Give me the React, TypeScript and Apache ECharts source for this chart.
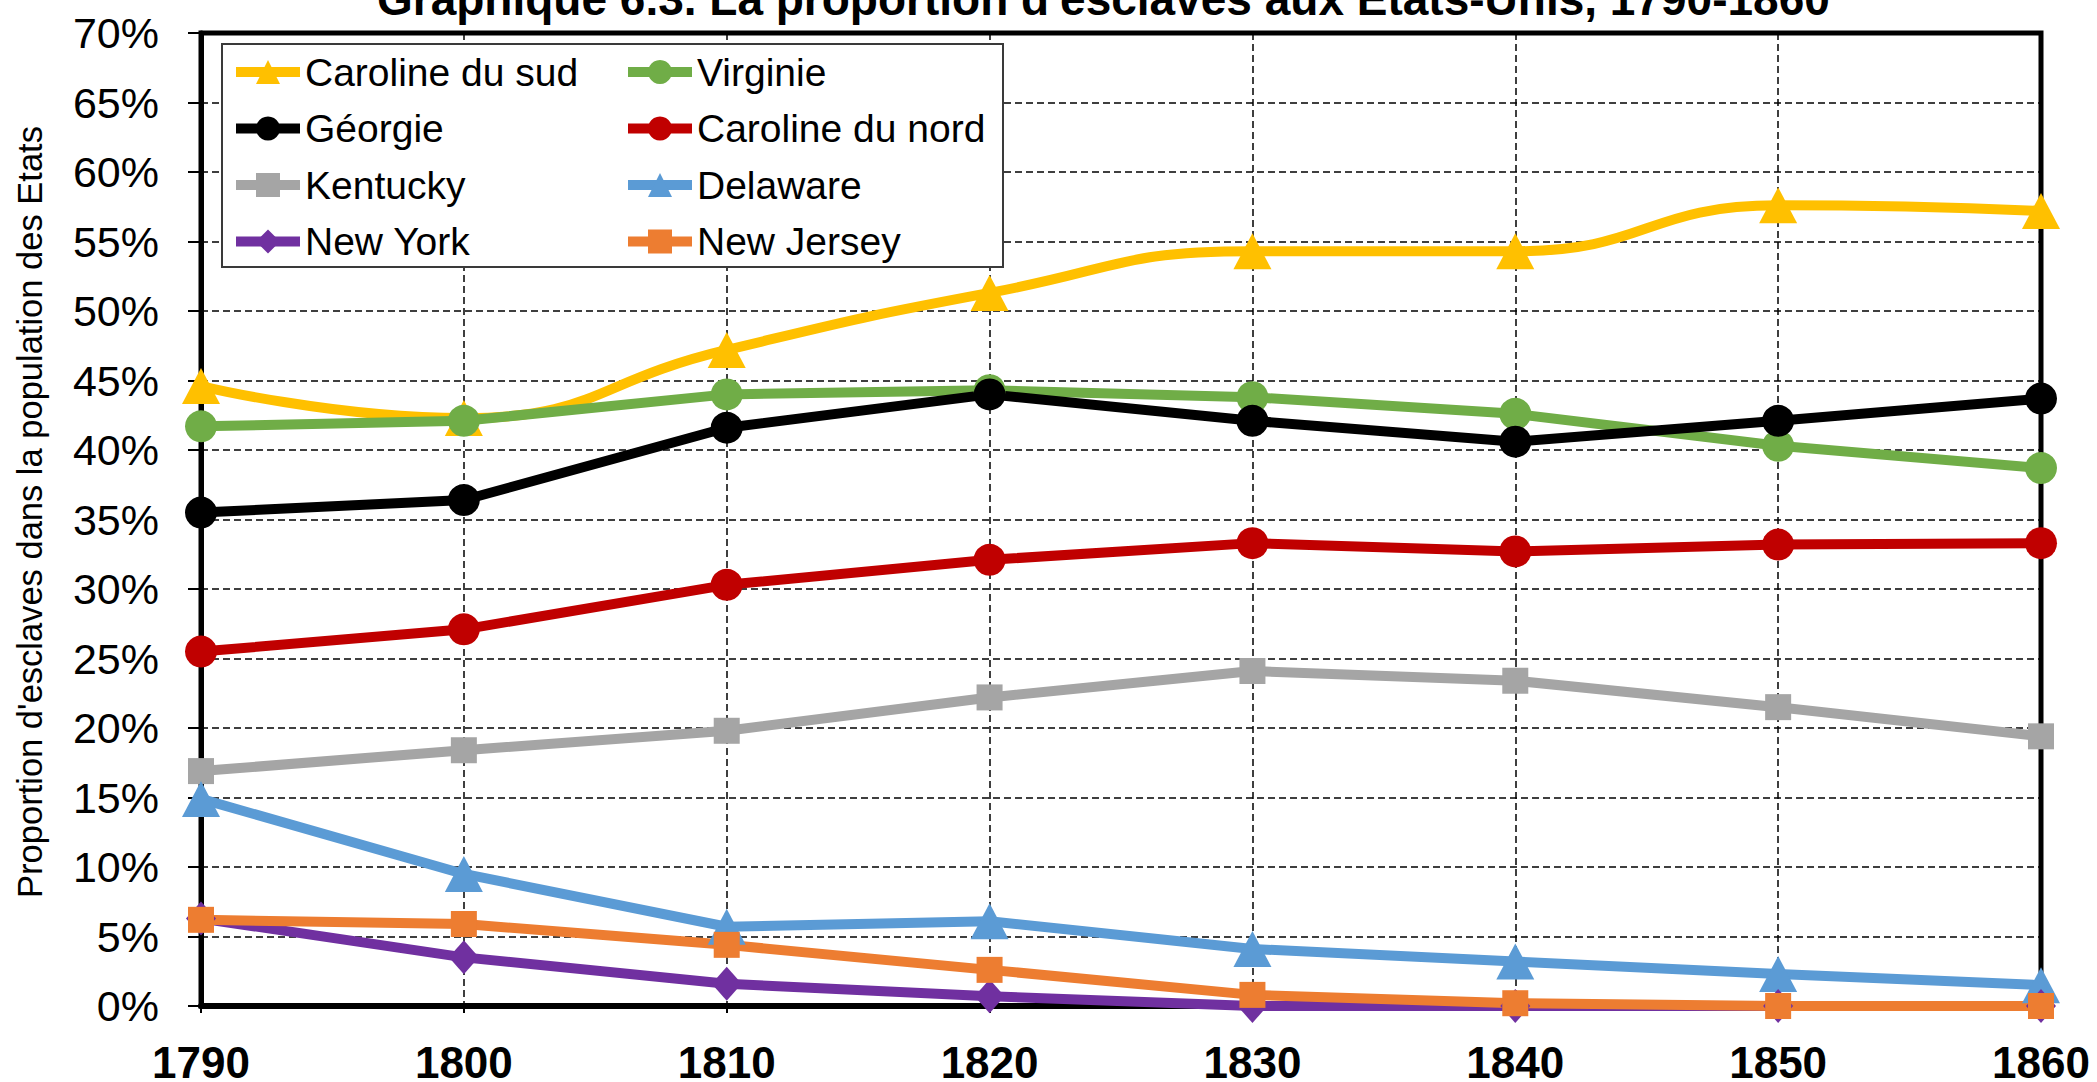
import React, { useEffect, useRef } from 'react';
import * as echarts from 'echarts';

const years = ['1790', '1800', '1810', '1820', '1830', '1840', '1850', '1860'];

const carolineDuSud = [44.6, 42.3, 47.2, 51.3, 54.3, 54.3, 57.6, 57.2];
const virginie = [41.7, 42.1, 44.0, 44.3, 43.8, 42.6, 40.3, 38.7];
const georgie = [35.5, 36.4, 41.6, 44.0, 42.1, 40.6, 42.1, 43.7];
const carolineDuNord = [25.5, 27.1, 30.3, 32.1, 33.3, 32.7, 33.2, 33.3];
const kentucky = [16.9, 18.4, 19.8, 22.2, 24.1, 23.4, 21.5, 19.4];
const delaware = [14.9, 9.5, 5.7, 6.1, 4.1, 3.2, 2.3, 1.5];
const newYork = [6.3, 3.5, 1.6, 0.7, 0.0, 0.0, 0.0, 0.0];
const newJersey = [6.2, 5.9, 4.4, 2.6, 0.8, 0.2, 0.0, 0.0];

const yMin = 0;
const yMax = 70;
const yStep = 5;

const titleText = "Graphique 6.3. La proportion d'esclaves aux Etats-Unis, 1790-1860";
const yAxisTitle = "Proportion d'esclaves dans la population des Etats";

const legendColumn1 = ['Caroline du sud', 'Géorgie', 'Kentucky', 'New York'];
const legendColumn2 = ['Virginie', 'Caroline du nord', 'Delaware', 'New Jersey'];

const FONT = '"Liberation Sans", Arial, sans-serif';

const seriesDefs = [
  { name: 'Caroline du sud', data: carolineDuSud, color: '#FFC000', symbol: 'triangle', size: [38, 36], smooth: true },
  { name: 'Virginie', data: virginie, color: '#70AD47', symbol: 'circle', size: 32, smooth: false },
  { name: 'Géorgie', data: georgie, color: '#000000', symbol: 'circle', size: 32, smooth: false },
  { name: 'Caroline du nord', data: carolineDuNord, color: '#C00000', symbol: 'circle', size: 32, smooth: false },
  { name: 'Kentucky', data: kentucky, color: '#A5A5A5', symbol: 'rect', size: 26, smooth: false },
  { name: 'Delaware', data: delaware, color: '#5B9BD5', symbol: 'triangle', size: [38, 36], smooth: false },
  { name: 'New York', data: newYork, color: '#7030A0', symbol: 'diamond', size: [30, 34], smooth: false },
  { name: 'New Jersey', data: newJersey, color: '#ED7D31', symbol: 'rect', size: 26, smooth: false },
];

function legendOf(names: string[], left: number) {
  return {
    data: names,
    orient: 'vertical',
    left,
    top: 52,
    padding: 0,
    itemWidth: 64,
    itemHeight: 30,
    itemGap: 16.5,
    selectedMode: false,
    lineStyle: { width: 10 },
    textStyle: { fontFamily: FONT, fontSize: 39, lineHeight: 40, color: '#000' },
  };
}

export default function App() {
  const ref = useRef<HTMLDivElement>(null);

  useEffect(() => {
    document.body.style.margin = '0';
    const chart = echarts.init(ref.current as HTMLDivElement, null, { renderer: 'svg' });
    const option: any = {
      animation: false,
      backgroundColor: '#fff',
      title: {
        text: titleText,
        left: 377,
        top: -24,
        padding: 0,
        textStyle: { fontFamily: FONT, fontSize: 46, fontWeight: 'bold', color: '#000', lineHeight: 46 },
      },
      grid: {
        left: 201,
        right: 56,
        top: 33,
        bottom: 76,
        outerBoundsMode: 'none',
        containLabel: false,
        show: true,
        borderColor: '#000',
        borderWidth: 5,
        backgroundColor: 'transparent',
      },
      legend: [legendOf(legendColumn1, 231), legendOf(legendColumn2, 623)],
      graphic: [
        {
          type: 'rect',
          z: 3,
          shape: { x: 222, y: 44, width: 781, height: 223 },
          style: { fill: '#fff', stroke: '#3a3a3a', lineWidth: 2 },
        },
        {
          type: 'text',
          x: 29.5,
          y: 512,
          rotation: Math.PI / 2,
          style: {
            text: yAxisTitle,
            fontFamily: FONT,
            fontSize: 34.5,
            fill: '#000',
            align: 'center',
            verticalAlign: 'middle',
          },
        },
      ],
      xAxis: {
        type: 'category',
        data: years,
        boundaryGap: false,
        axisLine: { lineStyle: { color: '#000', width: 6 } },
        axisTick: { show: true, length: 7, alignWithLabel: true, lineStyle: { color: '#000', width: 2 } },
        axisLabel: { margin: 38, fontFamily: FONT, fontSize: 44, lineHeight: 36, fontWeight: 'bold', color: '#000' },
        splitLine: { show: true, lineStyle: { color: '#000', width: 1.5, type: [7, 4] } },
      },
      yAxis: {
        type: 'value',
        min: yMin,
        max: yMax,
        interval: yStep,
        axisLine: { show: true, lineStyle: { color: '#000', width: 5 } },
        axisTick: { show: true, length: 13, lineStyle: { color: '#000', width: 2 } },
        axisLabel: { margin: 42, fontFamily: FONT, fontSize: 43, color: '#000', formatter: '{value}%' },
        splitLine: { show: true, lineStyle: { color: '#000', width: 1.5, type: [7, 4] } },
      },
      series: seriesDefs.map((s) => ({
        name: s.name,
        type: 'line',
        data: s.data,
        smooth: s.smooth ? 0.5 : false,
        symbol: s.symbol,
        symbolSize: s.size,
        showAllSymbol: true,
        clip: false,
        lineStyle: { color: s.color, width: 10 },
        itemStyle: { color: s.color },
        emphasis: { disabled: true },
      })),
    };
    chart.setOption(option);
    return () => chart.dispose();
  }, []);

  return <div ref={ref} style={{ width: 2097, height: 1082 }} />;
}
